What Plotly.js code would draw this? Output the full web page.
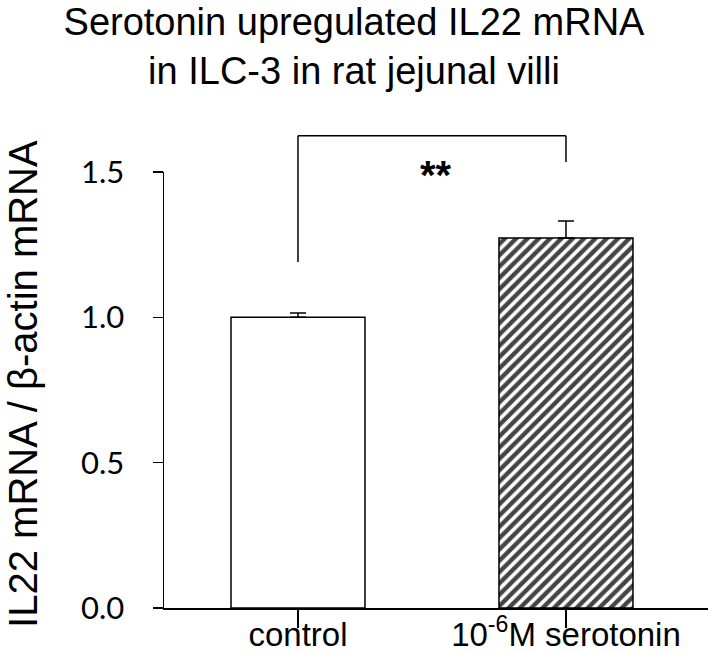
<!DOCTYPE html>
<html>
<head>
<meta charset="utf-8">
<script src="https://cdn.plot.ly/plotly-3.0.1.min.js"></script>
<style>
  html, body { margin: 0; padding: 0; background: #fff; }
  #chart { width: 708px; height: 652px; }
</style>
</head>
<body>
<div id="chart"></div>
<script>
// values
const categories = ['control', '10<sup>-6</sup>M serotonin'];
const means = [1.0, 1.273];
const sem = [0.015, 0.058];
const yTickVals = [0, 0.5, 1.0, 1.5];
const yTickText = ['0.0', '0.5', '1.0', '1.5'];
const yTitle = 'IL22 mRNA / β-actin mRNA';

// significance bracket (data units)
const bracketTop = 1.625;
const bracketLeftEnd = 1.19;
const bracketRightEnd = 1.534;
const sigLabel = '**';

const yMax = 1.5;
const toPaper = v => v / yMax;
const plotLeft = 164, plotWidth = 544;

const bars = {
    type: 'bar',
    x: [0, 1],
    y: means,
    width: 0.5,
    marker: {
        color: ['#ffffff', '#ffffff'],
        line: { color: '#000', width: 1.5 },
        pattern: {
            shape: ['', '/'],
            fgcolor: '#000',
            bgcolor: '#fff',
            fgopacity: 1,
            size: 8,
            solidity: 0.55,
            fillmode: 'overlay'
        }
    },
    error_y: {
        type: 'data',
        symmetric: false,
        array: sem,
        arrayminus: [0, 0],
        color: '#000',
        thickness: 1.5,
        width: 8
    },
    hoverinfo: 'none'
};

const layout = {
    width: 708,
    height: 652,
    margin: { l: plotLeft, r: 0, t: 172, b: 44 },
    paper_bgcolor: '#fff',
    plot_bgcolor: '#fff',
    showlegend: false,
    title: {
        text: 'Serotonin upregulated IL22 mRNA<br>in ILC-3 in rat jejunal villi',
        font: { family: 'Liberation Sans, Arial, sans-serif', size: 38, color: '#000' },
        xref: 'container', x: 0.5, xanchor: 'center',
        yref: 'container', y: 1, yanchor: 'top',
        pad: { t: 35 }
    },
    xaxis: {
        range: [-0.5, 1.53],
        tickmode: 'array',
        tickvals: [0, 1],
        ticktext: categories,
        tickson: 'boundaries',
        ticks: 'outside',
        ticklen: 18,
        tickwidth: 1.5,
        tickcolor: '#000',
        showline: true,
        linecolor: '#000',
        linewidth: 1.5,
        showgrid: false,
        zeroline: false,
        tickfont: { family: 'Liberation Sans, Arial, sans-serif', size: 33, color: '#000' },
        ticklabelstandoff: -21,
        automargin: false
    },
    yaxis: {
        range: [0, yMax],
        tickmode: 'array',
        tickvals: yTickVals,
        ticktext: yTickText,
        ticks: 'outside',
        ticklen: 10,
        tickwidth: 1.5,
        tickcolor: '#000',
        showline: true,
        linecolor: '#000',
        linewidth: 1.5,
        showgrid: false,
        zeroline: false,
        tickfont: { family: 'Lato, Carlito, sans-serif', size: 31, color: '#000' },
        ticklabelstandoff: 22,
        automargin: false
    },
    shapes: [
        { type: 'line', xref: 'x', yref: 'paper', x0: 0, x1: 0,
          y0: toPaper(bracketLeftEnd), y1: toPaper(bracketTop), line: { color: '#000', width: 1.5 } },
        { type: 'line', xref: 'x', yref: 'paper', x0: 0, x1: 1,
          y0: toPaper(bracketTop), y1: toPaper(bracketTop), line: { color: '#000', width: 1.5 } },
        { type: 'line', xref: 'x', yref: 'paper', x0: 1, x1: 1,
          y0: toPaper(bracketRightEnd), y1: toPaper(bracketTop), line: { color: '#000', width: 1.5 } }
    ],
    annotations: [
        { text: '<b>' + sigLabel + '</b>', xref: 'x', yref: 'paper', x: 0.515, y: toPaper(1.49),
          showarrow: false, xanchor: 'center', yanchor: 'middle',
          font: { family: 'Liberation Sans, Arial, sans-serif', size: 40, color: '#000' } },
        // y-axis title as a rotated annotation so it can sit close to the edge
        { text: yTitle, xref: 'paper', yref: 'paper', x: (-1 - plotLeft) / plotWidth, y: 0.514,
          textangle: -90, showarrow: false, xanchor: 'left', yanchor: 'middle',
          font: { family: 'Liberation Sans, Arial, sans-serif', size: 40, color: '#000' } }
    ]
};

Plotly.newPlot('chart', [bars], layout, { displayModeBar: false, staticPlot: true });
</script>
</body>
</html>
